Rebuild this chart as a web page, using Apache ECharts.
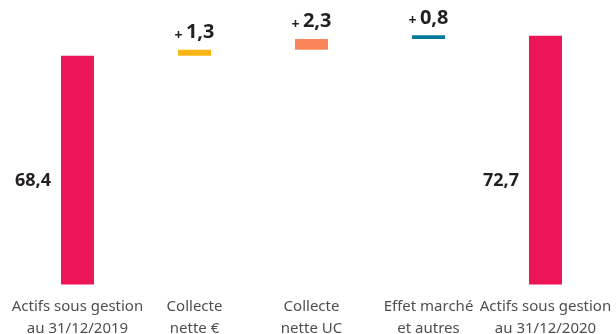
<!DOCTYPE html>
<html>
<head>
<meta charset="utf-8">
<script src="https://cdn.jsdelivr.net/npm/echarts@6/dist/echarts.min.js"></script>
<style>
  html, body { margin: 0; padding: 0; background: #ffffff; }
  #chart { width: 616px; height: 334px; }
</style>
</head>
<body>
<div id="chart"></div>
<script>
// Waterfall of assets under management, 2019 -> 2020 (Md€)
const categories = [
  'Actifs sous gestion\nau 31/12/2019',
  'Collecte\nnette €',
  'Collecte\nnette UC',
  'Effet marché\net autres',
  'Actifs sous gestion\nau 31/12/2020'
];
const opening = 68.4;
const changes = [1.3, 2.3, 0.8];
const closing = 72.7;

const barColors = ['#EE1458', '#FBB615', '#F8855A', '#05799A', '#EE1458'];
const TEXT = '#231F20';

const fmt = v => v.toFixed(1).replace('.', ',');

// Invisible bases for the floating steps, visible amounts on top
const baseData = [0];
const amountData = [opening];
let running = opening;
changes.forEach(c => { baseData.push(+running.toFixed(1)); amountData.push(c); running += c; });
baseData.push(0);
amountData.push(closing);

const lastIdx = amountData.length - 1;
const amountItems = amountData.map((v, i) => {
  const isTotal = i === 0 || i === lastIdx;
  return {
    value: v,
    itemStyle: { color: barColors[i] },
    label: isTotal ? {
      show: true,
      position: [-10, '100%'],
      offset: [0, -104],
      align: 'right',
      verticalAlign: 'middle',
      formatter: p => fmt(p.value),
      fontFamily: 'Noto Sans',
      fontWeight: 'bold',
      fontSize: 18,
      color: TEXT
    } : {
      show: true,
      position: 'top',
      distance: 7,
      formatter: p => '{p|+} {v|' + fmt(p.value) + '}',
      rich: {
        p: { fontFamily: 'Noto Sans', fontWeight: 'bold', fontSize: 14, color: TEXT, padding: [7, 0, 0, 0] },
        v: { fontFamily: 'Noto Sans', fontWeight: 'bold', fontSize: 20, color: TEXT }
      }
    }
  };
});

const chart = echarts.init(document.getElementById('chart'), null, { renderer: 'canvas' });
chart.setOption({
  animation: false,
  grid: { left: 19, right: 12, top: 20, bottom: 49.5, outerBoundsMode: 'none', containLabel: false },
  xAxis: {
    type: 'category',
    data: categories,
    axisLine: { show: false },
    axisTick: { show: false },
    axisLabel: {
      interval: 0,
      margin: 11,
      fontFamily: 'Noto Sans',
      fontSize: 15,
      lineHeight: 22,
      color: '#4F4F4F'
    }
  },
  yAxis: {
    type: 'value',
    min: 19.1,
    max: 76.1,
    show: false,
    splitLine: { show: false }
  },
  series: [
    {
      type: 'bar',
      stack: 'wf',
      barWidth: 33,
      clip: true,
      itemStyle: { color: 'transparent' },
      emphasis: { disabled: true },
      data: baseData
    },
    {
      type: 'bar',
      stack: 'wf',
      barWidth: 33,
      clip: true,
      data: amountItems
    }
  ]
});
</script>
</body>
</html>
